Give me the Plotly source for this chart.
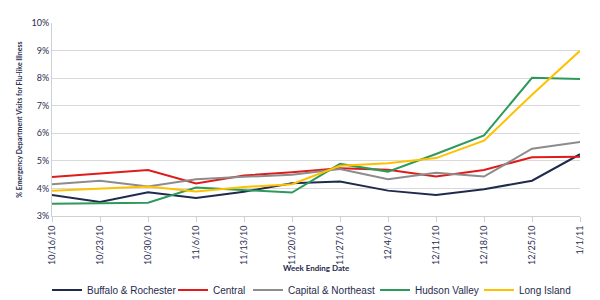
import plotly.graph_objects as go

weeks = ["10/16/10", "10/23/10", "10/30/10", "11/6/10", "11/13/10", "11/20/10",
         "11/27/10", "12/4/10", "12/11/10", "12/18/10", "12/25/10", "1/1/11"]

buffalo = [3.76, 3.51, 3.86, 3.65, 3.88, 4.19, 4.25, 3.92, 3.76, 3.97, 4.28, 5.24]
central = [4.41, 4.55, 4.67, 4.18, 4.47, 4.59, 4.73, 4.68, 4.43, 4.67, 5.13, 5.15]
capital = [4.15, 4.28, 4.07, 4.33, 4.42, 4.50, 4.70, 4.33, 4.57, 4.43, 5.44, 5.68]
hudson = [3.44, 3.45, 3.48, 4.03, 3.95, 3.85, 4.89, 4.61, 5.25, 5.92, 8.01, 7.97]
long_island = [3.92, 4.00, 4.07, 3.89, 4.05, 4.15, 4.82, 4.91, 5.10, 5.73, 7.40, 8.99]

series = [
    ("Buffalo & Rochester", buffalo, "#1f2b4d"),
    ("Central", central, "#e01b1b"),
    ("Capital & Northeast", capital, "#8c8c8c"),
    ("Hudson Valley", hudson, "#2e9a5a"),
    ("Long Island", long_island, "#ffc000"),
]
# legend entry left edges (container fraction of width)
legend_x = [47 / 600, 173 / 600, 248 / 600, 375 / 600, 479 / 600]

L, R, T, B = 52, 20, 23, 84
W, H = 600, 300
PH = H - T - B

fig = go.Figure()
layout_legends = {}
for i, (name, vals, color) in enumerate(series):
    key = f"legend{i+2}"
    fig.add_trace(go.Scatter(x=weeks, y=vals, name=name, mode="lines",
                             line=dict(color=color, width=2), legend=key,
                             showlegend=True))
    layout_legends[key] = dict(
        orientation="h", xref="container", yref="container",
        x=legend_x[i], xanchor="left",
        y=1 - 290 / H, yanchor="middle",
        font=dict(size=10, color="#1f2b4d", family="Liberation Sans, Arial, sans-serif"),
        itemwidth=30, bgcolor="rgba(0,0,0,0)",
    )

fig.update_layout(
    width=W, height=H,
    margin=dict(l=L, r=R, t=T, b=B, autoexpand=False),
    plot_bgcolor="white", paper_bgcolor="white",
    font=dict(family="Liberation Sans, Arial, sans-serif", color="#1f2b4d"),
    xaxis=dict(
        type="category", range=[0, 11], tickangle=-90,
        tickfont=dict(size=9, family="Lato, sans-serif", color="#1f2b4d"),
        showgrid=False, showline=True, linecolor="#d0d0d0", linewidth=1,
        ticks="outside", ticklen=5, tickcolor="#d0d0d0",
    ),
    yaxis=dict(
        range=[3, 10], dtick=1, ticksuffix="%",
        tickfont=dict(size=9, family="Lato, sans-serif", color="#1f2b4d"),
        showgrid=True, gridcolor="#d9d9d9", gridwidth=1,
        showline=True, linecolor="#d0d0d0", zeroline=False,
        title=dict(text="<b>% Emergency Department Visits for Flu-like Illness</b>",
                   font=dict(size=7, family="Lato, sans-serif"), standoff=8),
    ),
    annotations=[dict(
        text="<b>Week Ending Date</b>", xref="paper", yref="paper",
        x=0.5, y=-(268 - (T + PH)) / PH, xanchor="center", yanchor="middle",
        showarrow=False, font=dict(size=8, family="Lato, sans-serif", color="#1f2b4d"),
    )],
    **layout_legends,
)

fig.write_html("out.html")
